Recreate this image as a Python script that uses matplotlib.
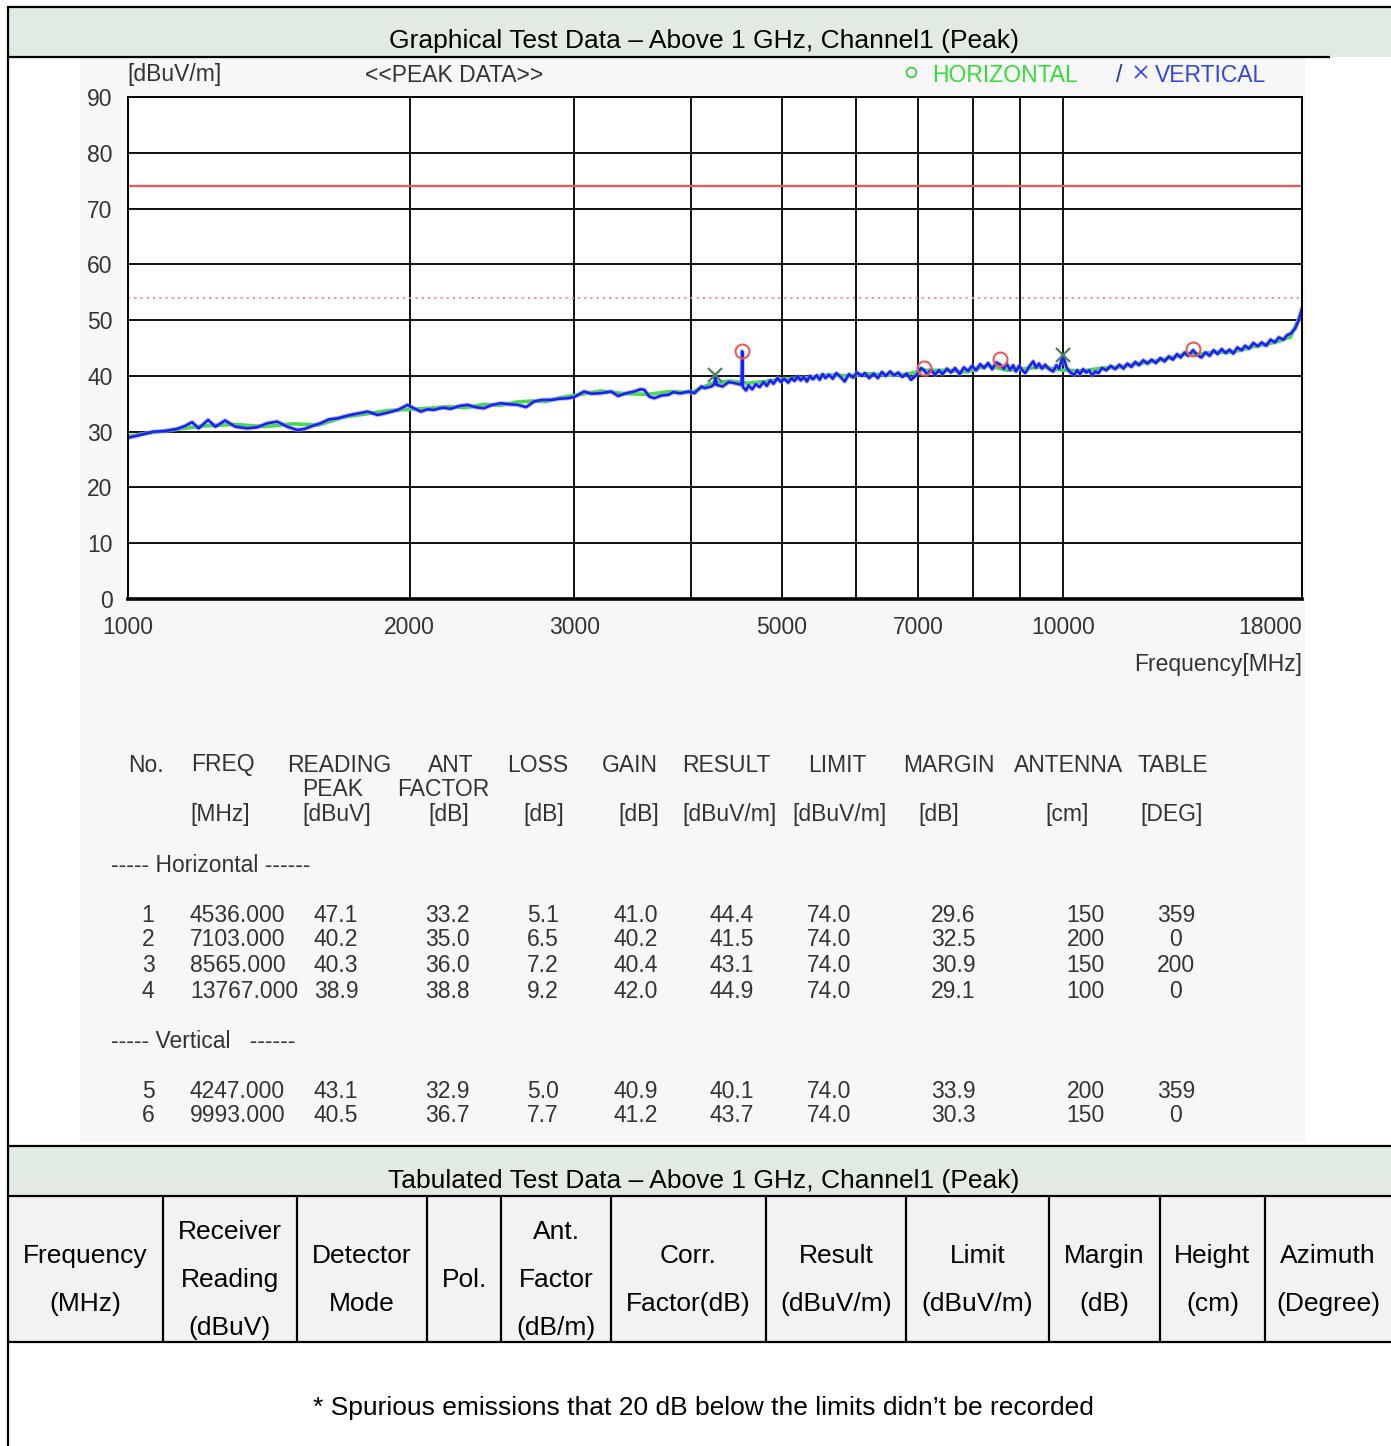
import matplotlib
matplotlib.use("Agg")
import matplotlib.pyplot as plt
from matplotlib.patches import Rectangle
from matplotlib.ticker import FixedLocator, NullFormatter

W, H = 1391, 1446
plt.rcParams['font.family'] = ['Liberation Sans', 'DejaVu Sans']

# ---- spectrum traces: (MHz, dBuV/m)
blue_trace = [
    (1000, 28.9), (1030, 29.4), (1064, 30.0), (1095, 30.1), (1128, 30.5), (1150, 31.0),
    (1171, 31.7), (1190, 30.6), (1218, 32.1), (1240, 30.9), (1270, 32.0), (1302, 30.9),
    (1341, 30.6), (1375, 30.8), (1409, 31.5), (1444, 31.8), (1480, 30.9), (1517, 30.3),
    (1545, 30.5), (1567, 30.9), (1606, 31.5), (1640, 32.2), (1675, 32.4), (1729, 33.0),
    (1765, 33.3), (1804, 33.6), (1849, 33.0), (1895, 33.4), (1943, 33.9), (1991, 34.8),
    (2021, 34.2), (2056, 33.6), (2090, 34.0), (2123, 33.9), (2170, 34.3), (2214, 34.1),
    (2260, 34.6), (2308, 34.8), (2350, 34.4), (2402, 34.2), (2450, 34.8), (2505, 35.1),
    (2560, 34.9), (2612, 34.8), (2665, 34.4), (2717, 35.4), (2770, 35.7), (2834, 35.7),
    (2890, 35.9), (2954, 36.0), (3000, 36.2), (3074, 37.2), (3130, 36.8), (3205, 36.9),
    (3286, 37.2), (3343, 36.4), (3410, 36.9), (3477, 37.2), (3530, 37.6), (3565, 37.5),
    (3609, 36.3), (3653, 36.0), (3720, 36.5), (3781, 36.6), (3830, 37.1), (3877, 36.9),
    (3905, 36.9), (3974, 37.2), (4033, 36.9), (4104, 38.1), (4134, 37.8), (4205, 38.1),
    (4235, 38.5), (4247, 40.1), (4260, 38.4), (4321, 38.1), (4390, 38.9), (4450, 38.7),
    (4530, 38.4), (4536, 44.4), (4545, 38.0), (4580, 37.4), (4607, 38.3), (4650, 37.6),
    (4690, 38.5), (4735, 38.0), (4781, 38.9), (4820, 38.2), (4860, 39.2), (4900, 38.6),
    (4948, 39.6), (4990, 38.9), (5030, 39.5), (5080, 38.8), (5123, 39.6), (5160, 39.1),
    (5200, 39.9), (5240, 39.2), (5278, 39.8), (5320, 39.0), (5360, 40.0), (5400, 39.4),
    (5450, 40.1), (5490, 39.3), (5530, 40.3), (5570, 39.6), (5615, 40.2), (5670, 39.5),
    (5720, 40.5), (5780, 39.8), (5838, 39.0), (5900, 40.3), (5960, 39.7), (6020, 40.6),
    (6088, 40.0), (6140, 40.5), (6200, 39.6), (6270, 40.4), (6335, 39.6), (6400, 40.7),
    (6460, 40.0), (6530, 40.8), (6592, 40.1), (6660, 40.6), (6730, 39.8), (6800, 40.4),
    (6875, 39.3), (6960, 40.1), (7045, 41.4), (7103, 41.0), (7150, 40.2), (7220, 41.1),
    (7291, 40.2), (7360, 41.0), (7430, 40.3), (7510, 41.3), (7585, 40.6), (7660, 41.4),
    (7750, 40.3), (7830, 41.5), (7911, 40.9), (7990, 41.8), (8070, 41.0), (8150, 42.1),
    (8230, 41.4), (8310, 42.3), (8394, 41.2), (8480, 42.4), (8565, 42.0), (8640, 41.3),
    (8700, 42.2), (8770, 41.1), (8840, 41.9), (8900, 40.8), (8970, 41.8), (9040, 41.0),
    (9106, 40.5), (9200, 41.7), (9287, 42.6), (9350, 41.5), (9420, 42.2), (9490, 41.3),
    (9565, 42.0), (9660, 41.2), (9757, 40.8), (9830, 41.9), (9900, 41.3), (9993, 43.7),
    (10080, 41.5), (10180, 40.6), (10275, 40.2), (10350, 41.0), (10420, 40.3), (10500, 41.2),
    (10585, 40.6), (10660, 41.0), (10740, 40.1), (10820, 40.8), (10903, 40.5), (11000, 41.4),
    (11120, 41.0), (11240, 41.8), (11366, 41.2), (11480, 42.0), (11600, 41.3), (11710, 42.2),
    (11826, 41.6), (11940, 42.5), (12050, 41.9), (12180, 42.8), (12303, 42.2), (12430, 42.9),
    (12560, 42.3), (12700, 43.2), (12834, 42.6), (12970, 43.5), (13100, 42.9), (13230, 43.9),
    (13350, 43.3), (13480, 44.2), (13600, 43.6), (13767, 44.6), (13900, 43.8), (14050, 43.3),
    (14190, 44.2), (14340, 43.6), (14480, 44.6), (14620, 43.9), (14770, 44.8), (14914, 44.1),
    (15060, 44.7), (15200, 44.0), (15350, 45.1), (15512, 44.6), (15650, 45.4), (15800, 44.9),
    (15970, 45.9), (16140, 45.3), (16300, 46.0), (16480, 45.4), (16660, 46.5), (16839, 46.0),
    (17000, 46.9), (17200, 46.5), (17350, 47.3), (17510, 47.6), (17700, 48.5), (17860, 50.0),
    (18000, 52.1),
]
green_trace = [
    (1000, 29.2), (1100, 30.2), (1200, 31.0), (1300, 31.3), (1400, 30.9), (1500, 31.4),
    (1600, 31.2), (1700, 32.6), (1800, 33.2), (1900, 33.8), (2000, 34.0), (2100, 34.2),
    (2200, 34.5), (2300, 34.3), (2400, 34.9), (2500, 34.7), (2600, 35.3), (2700, 35.5),
    (2800, 35.4), (2900, 36.1), (3000, 36.5), (3200, 37.3), (3400, 36.8), (3600, 36.7),
    (3800, 37.2), (4000, 37.0), (4200, 38.6), (4400, 39.1), (4600, 38.7), (4800, 39.0),
    (5000, 39.4), (5300, 39.6), (5600, 40.2), (5900, 40.0), (6200, 40.4), (6500, 40.1),
    (6800, 40.3), (7100, 41.0), (7500, 41.0), (7900, 40.7), (8300, 41.9), (8700, 41.0),
    (9100, 41.3), (9500, 41.6), (10000, 41.0), (10500, 40.9), (11000, 41.4), (11500, 41.6),
    (12000, 42.2), (12500, 42.6), (13000, 43.2), (13500, 43.9), (14000, 43.9), (14500, 44.3),
    (15000, 44.2), (15500, 44.6), (16000, 45.3), (16500, 45.7), (17000, 46.2), (17500, 47.0),
    (18000, 51.5),
]

limit_peak = 74.0
limit_avg = 54.0

# ---- peak list
pk_no = [1, 2, 3, 4, 5, 6]
pk_pol = ['H', 'H', 'H', 'H', 'V', 'V']
pk_freq = [4536.0, 7103.0, 8565.0, 13767.0, 4247.0, 9993.0]
pk_reading = [47.1, 40.2, 40.3, 38.9, 43.1, 40.5]
pk_ant = [33.2, 35.0, 36.0, 38.8, 32.9, 36.7]
pk_loss = [5.1, 6.5, 7.2, 9.2, 5.0, 7.7]
pk_gain = [41.0, 40.2, 40.4, 42.0, 40.9, 41.2]
pk_result = [44.4, 41.5, 43.1, 44.9, 40.1, 43.7]
pk_limit = [74.0, 74.0, 74.0, 74.0, 74.0, 74.0]
pk_margin = [29.6, 32.5, 30.9, 29.1, 33.9, 30.3]
pk_height = [150, 200, 150, 100, 200, 150]
pk_table = [359, 0, 200, 0, 359, 0]

x_major = [1000, 2000, 3000, 5000, 7000, 10000, 18000]
x_minor = [4000, 6000, 8000, 9000]

tab_headers = [['Frequency', '(MHz)'], ['Receiver', 'Reading', '(dBuV)'],
               ['Detector', 'Mode'], ['Pol.'], ['Ant.', 'Factor', '(dB/m)'],
               ['Corr.', 'Factor(dB)'], ['Result', '(dBuV/m)'], ['Limit', '(dBuV/m)'],
               ['Margin', '(dB)'], ['Height', '(cm)'], ['Azimuth', '(Degree)']]
tab_edges = [8, 163, 297, 427, 501, 611, 766, 906, 1049, 1160, 1265, 1391]

fig = plt.figure(figsize=(W / 100, H / 100), dpi=100)
bg = fig.add_axes([0, 0, 1, 1])
bg.set_xlim(0, W)
bg.set_ylim(H, 0)
bg.axis('off')

band = '#e2ebe1'
ink = '#333333'
doc_fs = 19
img_fs = 16.5

def hline(y, x0, x1, lw=1.6):
    bg.plot([x0, x1], [y, y], color='black', lw=lw, solid_capstyle='butt')

def vline(x, y0, y1, lw=1.6):
    bg.plot([x, x], [y0, y1], color='black', lw=lw, solid_capstyle='butt')

# top header band
bg.add_patch(Rectangle((9, 8), W - 9, 49, color=band, lw=0))
hline(7, 8, W)
hline(57, 8, 1330)
vline(8, 6, H)
bg.text(704, 41, 'Graphical Test Data \u2013 Above 1 GHz, Channel1 (Peak)',
        fontsize=doc_fs, ha='center', va='center', color='black')

# screenshot background
bg.add_patch(Rectangle((80, 58), 1226, 1084, color='#f7f7f7', lw=0))

# chart annotations
bg.text(127, 75, '[dBuV/m]', fontsize=img_fs, color=ink, va='center')
bg.text(365, 75, '<<PEAK DATA>>', fontsize=img_fs, color=ink, va='center')
bg.plot([911], [72], 'o', ms=7, mfc='none', mec='#33cc33', mew=1.2)
bg.text(932, 75, 'HORIZONTAL', fontsize=img_fs, color='#33dd33', va='center')
bg.text(1116, 75, '/', fontsize=img_fs, color='#2233aa', va='center')
bg.plot([1141], [72], 'x', ms=8, color='#3344ee', mew=1.2)
bg.text(1155, 75, 'VERTICAL', fontsize=img_fs, color='#3344ee', va='center')
bg.text(1302, 664, 'Frequency[MHz]', fontsize=img_fs, color=ink, ha='right', va='center')

# peak list printed under the chart
head1 = [(128, 'No.'), (191, 'FREQ'), (287, 'READING'), (428, 'ANT'), (507, 'LOSS'),
         (602, 'GAIN'), (682, 'RESULT'), (808, 'LIMIT'), (903, 'MARGIN'),
         (1014, 'ANTENNA'), (1138, 'TABLE')]
head2 = [(302, 'PEAK'), (397, 'FACTOR')]
head3 = [(190, '[MHz]'), (302, '[dBuV]'), (428, '[dB]'), (523, '[dB]'), (618, '[dB]'),
         (682, '[dBuV/m]'), (792, '[dBuV/m]'), (918, '[dB]'), (1045, '[cm]'),
         (1140, '[DEG]')]
for y, row in [(765, head1), (790, head2), (815, head3)]:
    for x, s in row:
        bg.text(x, y, s, fontsize=img_fs, color=ink, va='center')
bg.text(111, 865, '----- Horizontal ------', fontsize=img_fs, color=ink, va='center')
bg.text(111, 1041, '----- Vertical   ------', fontsize=img_fs, color=ink, va='center')

row_y = {'H': [915, 940, 965, 991], 'V': [1091, 1116]}
count = {'H': 0, 'V': 0}
for i in range(len(pk_no)):
    p = pk_pol[i]
    y = row_y[p][count[p]]
    count[p] += 1
    bg.text(148, y, str(pk_no[i]), fontsize=img_fs, color=ink, ha='center', va='center')
    cells = [(190, '%.3f' % pk_freq[i]), (314, '%.1f' % pk_reading[i]),
             (425, '%.1f' % pk_ant[i]), (527, '%.1f' % pk_loss[i]),
             (614, '%.1f' % pk_gain[i]), (710, '%.1f' % pk_result[i]),
             (807, '%.1f' % pk_limit[i]), (931, '%.1f' % pk_margin[i])]
    for x, s in cells:
        bg.text(x, y, s, fontsize=img_fs, color=ink, va='center')
    bg.text(1105, y, str(pk_height[i]), fontsize=img_fs, color=ink, ha='right', va='center')
    bg.text(1176, y, str(pk_table[i]), fontsize=img_fs, color=ink, ha='center', va='center')

# lower tabulated section
hline(1146, 8, W)
bg.add_patch(Rectangle((9, 1147), W - 9, 48, color=band, lw=0))
bg.text(704, 1181, 'Tabulated Test Data \u2013 Above 1 GHz, Channel1 (Peak)',
        fontsize=doc_fs, ha='center', va='center', color='black')
hline(1196, 8, W)
bg.add_patch(Rectangle((9, 1197), W - 9, 144, color='#f2f2f2', lw=0))
for x in tab_edges[1:-1]:
    vline(x, 1196, 1342)
for j, lines in enumerate(tab_headers):
    xc = (tab_edges[j] + tab_edges[j + 1]) / 2
    n = len(lines)
    for k, s in enumerate(lines):
        bg.text(xc, 1280 + (k - (n - 1) / 2) * 48, s, fontsize=doc_fs,
                ha='center', va='center', color='black')
hline(1342, 8, W)
bg.text(703, 1408, '* Spurious emissions that 20 dB below the limits didn\u2019t be recorded',
        fontsize=doc_fs, ha='center', va='center', color='black')

# ---- the chart itself
ax = fig.add_axes([128 / W, 1 - 599 / H, 1174 / W, 502 / H])
ax.set_xscale('log')
ax.set_xlim(1000, 18000)
ax.set_ylim(0, 90)
ax.xaxis.set_major_locator(FixedLocator(x_major))
ax.xaxis.set_minor_locator(FixedLocator(x_minor))
ax.xaxis.set_minor_formatter(NullFormatter())
ax.set_xticklabels([str(v) for v in x_major])
ax.set_yticks(range(0, 91, 10))
ax.grid(which='both', color='#111111', lw=1.4)
ax.tick_params(which='both', length=0, labelsize=img_fs, labelcolor=ink)
ax.tick_params(axis='x', pad=12)
ax.tick_params(axis='y', pad=11)
ax.get_xticklabels()[-1].set_ha('right')
for s in ax.spines.values():
    s.set_linewidth(1.4)
ax.spines['bottom'].set_linewidth(2.6)

ax.axhline(limit_peak, color='#ff5050', lw=1.6)
ax.axhline(limit_avg, color='#ff8c8c', lw=1.5, ls=(0, (1, 2)))

gf, gl = zip(*green_trace)
bf, bl = zip(*blue_trace)
ax.plot(gf, gl, color='#44dd44', lw=2.6)
ax.plot(bf, bl, color='#8a8cf8', lw=3.4, alpha=0.5)
ax.plot(bf, bl, color='#1a22ee', lw=1.9)

h_f = [f for f, p in zip(pk_freq, pk_pol) if p == 'H']
h_r = [r for r, p in zip(pk_result, pk_pol) if p == 'H']
v_f = [f for f, p in zip(pk_freq, pk_pol) if p == 'V']
v_r = [r for r, p in zip(pk_result, pk_pol) if p == 'V']
ax.plot(h_f, h_r, 'o', ms=10, mfc='none', mec='#e85a5a', mew=1.5, zorder=5)
ax.plot(v_f, v_r, 'x', ms=10, color='#4f7f62', mew=1.6, zorder=5)

fig.savefig('out.png', dpi=100)
